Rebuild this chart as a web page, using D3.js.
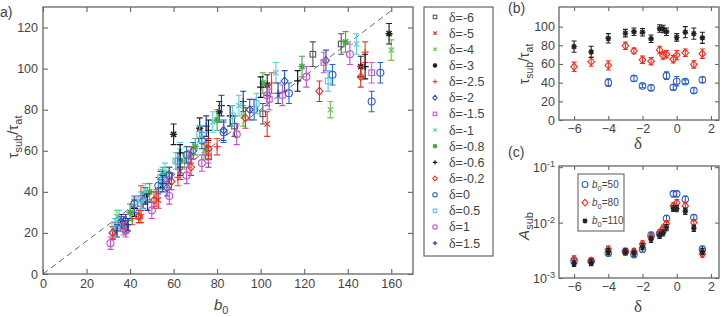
<!DOCTYPE html>
<html>
<head>
<meta charset="utf-8">
<script src="https://cdn.jsdelivr.net/npm/d3@7"></script>
<style>
body { margin: 0; background: #fff; }
text { font-family: Arial, "Liberation Sans", Helvetica, sans-serif; fill: #444; }
.greek { font-family: "Times New Roman", "Liberation Serif", "DejaVu Serif", serif; }
</style>
</head>
<body>
<svg id="chart" width="720" height="317"></svg>
<script>
// ---- data ----
// panel a : [b0, tau_sub/tau_at, error]
var deltaLabels = ["-6", "-5", "-4", "-3", "-2.5", "-2", "-1.5", "-1", "-0.8", "-0.6", "-0.2", "0", "0.5", "1", "1.5"];
var seriesColors = ["#555", "#e8302a", "#66c844", "#222", "#f04030", "#3050b0", "#c060c0", "#50d0e0", "#40b040", "#111", "#e83020", "#3060c8", "#50c8e0", "#c050d0", "#2040a0"];
var seriesShapes = ["square", "x", "x", "star", "plus", "diamond", "square", "x", "star", "plus", "diamond", "circle", "square", "circle", "plus"];

var dm6 = [[38,23,3],[58,48,4],[62,55,4],[76,57,5],[88,72,5],[101,78,5],[124,107,6],[137,112,5]];
var dm5 = [[37,25,3],[45,28,3],[53,36,4],[63,50,4],[75,62,4],[103,73,6]];
var dm4 = [[34,28,3],[42,33,4],[55,45,4],[65,55,4],[74,60,4],[92,77,5],[132,80,4],[160,109,5]];
var dm3 = [[36,26,3],[47,38,4],[60,68,5],[72,71,5],[81,79,5],[103,92,5],[146,101,5],[159,117,5]];
var dm25 = [[33,22,3],[41,27,3],[45,38,5],[52,37,4],[62,47,4],[68,58,4],[80,62,4],[105,93,5],[148,108,5]];
var dm2 = [[32,20,3],[38,26,3],[46,36,4],[57,42,4],[69,60,4],[83,70,5],[95,80,5],[111,94,5],[130,104,5]];
var dm15 = [[37,22,3],[44,28,3],[57,46,4],[67,56,4],[76,59,5],[104,85,5],[110,87,5],[129,103,5],[151,98,5]];
var dm1 = [[35,27,4],[47,40,4],[56,50,4],[63,60,4],[78,74,5],[90,82,5],[107,98,5],[144,112,5]];
var dm08 = [[40,30,4],[49,40,4],[55,48,4],[70,62,4],[80,75,5],[101,93,5],[119,101,5],[139,113,5]];
var dm06 = [[42,32,4],[54,46,4],[63,59,4],[76,70,5],[86,77,5],[100,91,5],[117,94,5],[148,101,6]];
var dm02 = [[32,20,3],[44,28,3],[51,36,4],[59,45,4],[68,52,4],[76,61,5],[93,76,5],[127,89,5],[146,96,5]];
var d0 = [[36,25,3],[42,34,4],[53,43,4],[58,48,4],[66,58,4],[73,65,4],[83,69,5],[97,80,5],[113,88,5],[133,97,5],[151,84,5],[155,98,5]];
var d05 = [[33,24,3],[45,36,4],[54,47,4],[61,55,4],[72,68,4],[87,77,5],[98,83,5],[131,94,5]];
var d1 = [[31,15,3],[38,21,3],[50,31,4],[58,38,4],[66,48,4],[73,54,4],[89,68,5],[103,87,5],[121,96,5],[141,107,5]];
var d15 = [[34,21,3],[39,24,3],[48,35,4],[55,44,4],[63,52,4],[75,72,5],[82,82,5],[92,84,5],[108,88,5]];
var seriesA = [dm6, dm5, dm4, dm3, dm25, dm2, dm15, dm1, dm08, dm06, dm02, d0, d05, d1, d15];

// panel b : tau_sub/tau_at vs delta for three b0
var deltaB = [-6, -5, -4, -3, -2.5, -2, -1.5, -1, -0.8, -0.6, -0.2, 0, 0.5, 1, 1.5];
var tau110 = [78.6, 73, 87.5, 93, 94.5, 94, 87, 98, 97.5, 94.5, null, 88.5, 94, 92.5, 88];
var tau80 = [57, 62.5, 58.5, 79.5, 74, 64.5, 63, 75, 69, 70.5, 65, 69.5, 72, 59.5, 71];
var tau50 = [null, null, 40, null, 44.5, 36.5, 34.5, null, null, 47.5, 35, 41.5, 41, 31.5, 43];
var err110 = [6, 6, 5, 4, 4, 4, 4, 4, 4, 4, 0, 4, 6, 6, 6];
var err80 = [5, 5, 5, 4, 3, 4, 4, 4, 4, 4, 4, 5, 4, 4, 5];
var err50 = [0, 0, 4, 0, 3, 2, 3, 0, 0, 4, 3, 5, 2, 3, 3];

// panel c : A_sub vs delta (log scale)
var amp50 = [2.0e-3, 2.0e-3, 2.8e-3, 3.0e-3, 2.65e-3, 3.3e-3, 5.9e-3, 6.3e-3, 7.2e-3, 1.19e-2, 3.3e-2, 3.3e-2, 2.65e-2, 1.23e-2, 3.3e-3];
var amp80 = [2.2e-3, 2.06e-3, 3.3e-3, 3.0e-3, 3.0e-3, 4.1e-3, 5.5e-3, 6.6e-3, 7.9e-3, 9.5e-3, 2.0e-2, 2.28e-2, 2.0e-2, 1.0e-2, 2.7e-3];
var amp110 = [1.83e-3, 1.9e-3, 3.0e-3, 2.95e-3, 2.8e-3, 3.7e-3, 5.0e-3, 5.9e-3, 6.5e-3, 8.1e-3, 1.8e-2, 1.78e-2, 1.6e-2, 7.9e-3, 3.0e-3];
var b0Labels = ["50", "80", "110"];

var xTicksA = [0, 20, 40, 60, 80, 100, 120, 140, 160];
var yTicksA = [0, 20, 40, 60, 80, 100, 120];
var xTicksB = [-6, -4, -2, 0, 2];
var yTicksB = [0, 20, 40, 60, 80, 100];
var yTicksC = [-3, -2, -1];

var svg = d3.select("#chart");
var frameColor = "#666";

function marker(g, shape, cx, cy, r, color) {
	if (shape == "square") {
		g.append("rect").attr("x", cx - r * 0.8).attr("y", cy - r * 0.8)
			.attr("width", r * 1.6).attr("height", r * 1.6)
			.attr("fill", "none").attr("stroke", color).attr("stroke-width", 1.1);
	} else if (shape == "circle") {
		g.append("circle").attr("cx", cx).attr("cy", cy).attr("r", r)
			.attr("fill", "none").attr("stroke", color).attr("stroke-width", 1.1);
	} else if (shape == "diamond") {
		g.append("path")
			.attr("d", "M" + cx + "," + (cy - r * 1.1) + "L" + (cx + r) + "," + cy + "L" + cx + "," + (cy + r * 1.1) + "L" + (cx - r) + "," + cy + "Z")
			.attr("fill", "none").attr("stroke", color).attr("stroke-width", 1.1);
	} else {
		var p = "";
		var a = r * 0.75;
		if (shape == "x" || shape == "star")
			p += "M" + (cx - a) + "," + (cy - a) + "L" + (cx + a) + "," + (cy + a) + "M" + (cx - a) + "," + (cy + a) + "L" + (cx + a) + "," + (cy - a);
		if (shape == "plus" || shape == "star")
			p += "M" + (cx - r) + "," + cy + "L" + (cx + r) + "," + cy + "M" + cx + "," + (cy - r) + "L" + cx + "," + (cy + r);
		g.append("path").attr("d", p).attr("fill", "none").attr("stroke", color)
			.attr("stroke-width", shape == "star" ? 1.4 : 1.2);
	}
}

function errBar(g, x, y1, y2, cap, color) {
	g.append("path")
		.attr("d", "M" + x + "," + y1 + "L" + x + "," + y2 +
			"M" + (x - cap) + "," + y1 + "L" + (x + cap) + "," + y1 +
			"M" + (x - cap) + "," + y2 + "L" + (x + cap) + "," + y2)
		.attr("fill", "none").attr("stroke", color).attr("stroke-width", 1.1);
}

function frame(x0, y0, x1, y1) {
	svg.append("rect").attr("x", x0).attr("y", y0)
		.attr("width", x1 - x0).attr("height", y1 - y0)
		.attr("fill", "none").attr("stroke", frameColor).attr("stroke-width", 1.3);
}

function styleAxis(g) {
	g.select(".domain").remove();
	g.selectAll(".tick line").attr("stroke", frameColor).attr("stroke-width", 1.1);
	g.selectAll(".tick text").style("font-size", "12.5px").attr("fill", "#444");
}

// ================= panel a =================
var xA = d3.scaleLinear().domain([0, 170]).range([43, 413]);
var yA = d3.scaleLinear().domain([0, 130]).range([274, 7]);

svg.append("g").attr("transform", "translate(0,274)")
	.call(d3.axisBottom(xA).tickValues(xTicksA).tickSize(-5).tickPadding(5)).call(styleAxis);
svg.append("g").attr("transform", "translate(0,7)")
	.call(d3.axisTop(xA).tickValues(xTicksA).tickSize(-5).tickFormat("")).call(styleAxis);
svg.append("g").attr("transform", "translate(43,0)")
	.call(d3.axisLeft(yA).tickValues(yTicksA).tickSize(-5).tickPadding(5)).call(styleAxis);
svg.append("g").attr("transform", "translate(413,0)")
	.call(d3.axisRight(yA).tickValues(yTicksA).tickSize(-5).tickFormat("")).call(styleAxis);

// dashed guide line
svg.append("line")
	.attr("x1", xA(0)).attr("y1", yA(0)).attr("x2", xA(161)).attr("y2", yA(129))
	.attr("stroke", "#666").attr("stroke-width", 1).attr("stroke-dasharray", "6,4");

var gA = svg.append("g");
seriesA.forEach(function(s, i) {
	s.forEach(function(d) {
		errBar(gA, xA(d[0]), yA(d[1] - d[2]), yA(d[1] + d[2]), 3, seriesColors[i]);
		marker(gA, seriesShapes[i], xA(d[0]), yA(d[1]), 3.5, seriesColors[i]);
	});
});
frame(43, 7, 413, 274);

svg.append("text").attr("x", 0).attr("y", 17).style("font-size", "14px").attr("fill", "#333").text("a)");
var ylA = svg.append("text").attr("transform", "translate(18,137) rotate(-90)")
	.attr("text-anchor", "middle").style("font-size", "15px").attr("fill", "#333");
ylA.append("tspan").text("τ");
ylA.append("tspan").attr("dy", 4).style("font-size", "11px").text("sub");
ylA.append("tspan").attr("dy", -4).text("/τ");
ylA.append("tspan").attr("dy", 4).style("font-size", "11px").text("at");
var xlA = svg.append("text").attr("x", 214).attr("y", 310).style("font-size", "15px").attr("fill", "#333");
xlA.append("tspan").style("font-style", "italic").text("b");
xlA.append("tspan").attr("dy", 4).style("font-size", "11px").text("0");

// legend a
svg.append("rect").attr("x", 424).attr("y", 7).attr("width", 69).attr("height", 249)
	.attr("fill", "#fff").attr("stroke", frameColor).attr("stroke-width", 1.2);
var legA = svg.append("g");
deltaLabels.forEach(function(lab, i) {
	var yy = 17 + i * 16.15;
	marker(legA, seriesShapes[i], 435, yy, 2.2, seriesColors[i]);
	var t = legA.append("text").attr("x", 449).attr("y", yy + 4.5).style("font-size", "12.5px").attr("fill", "#444");
	t.append("tspan").attr("class", "greek").style("font-size", "14px").text("δ");
	t.append("tspan").text("=" + lab);
});

// ================= panel b =================
var xB = d3.scaleLinear().domain([-6.88, 2.47]).range([559, 719]);
var yB = d3.scaleLinear().domain([0, 121]).range([120, 7]);

svg.append("g").attr("transform", "translate(0,120)")
	.call(d3.axisBottom(xB).tickValues(xTicksB).tickSize(-4).tickPadding(4)).call(styleAxis);
svg.append("g").attr("transform", "translate(0,7)")
	.call(d3.axisTop(xB).tickValues(xTicksB).tickSize(-4).tickFormat("")).call(styleAxis);
svg.append("g").attr("transform", "translate(559,0)")
	.call(d3.axisLeft(yB).tickValues(yTicksB).tickSize(-4).tickPadding(4)).call(styleAxis);
svg.append("g").attr("transform", "translate(719,0)")
	.call(d3.axisRight(yB).tickValues(yTicksB).tickSize(-4).tickFormat("")).call(styleAxis);

var gB = svg.append("g");
var bSets = [[tau50, err50, "circle", "#3060c8"], [tau80, err80, "diamond", "#e83020"], [tau110, err110, "star", "#222"]];
bSets.forEach(function(set) {
	deltaB.forEach(function(dl, i) {
		var v = set[0][i];
		if (v == null) return;
		errBar(gB, xB(dl), yB(v - set[1][i]), yB(v + set[1][i]), 2.5, set[3]);
		marker(gB, set[2], xB(dl), yB(v), set[2] == "star" ? 2.8 : 3.3, set[3]);
	});
});
frame(559, 7, 719, 120);

svg.append("text").attr("x", 508).attr("y", 13).style("font-size", "14px").attr("fill", "#333").text("(b)");
var ylB = svg.append("text").attr("transform", "translate(529,64) rotate(-90)")
	.attr("text-anchor", "middle").style("font-size", "14px").attr("fill", "#333");
ylB.append("tspan").text("τ");
ylB.append("tspan").attr("dy", 4).style("font-size", "10.5px").text("sub");
ylB.append("tspan").attr("dy", -4).text("/τ");
ylB.append("tspan").attr("dy", 4).style("font-size", "10.5px").text("at");
svg.append("text").attr("class", "greek").attr("x", 638).attr("y", 149).attr("text-anchor", "middle")
	.style("font-size", "17px").attr("fill", "#333").text("δ");

// ================= panel c =================
var xC = d3.scaleLinear().domain([-6.88, 2.47]).range([559, 719]);
var yC = d3.scaleLog().domain([1e-3, 1.05e-1]).range([278, 166]);

svg.append("g").attr("transform", "translate(0,278)")
	.call(d3.axisBottom(xC).tickValues(xTicksB).tickSize(-4).tickPadding(4)).call(styleAxis);
svg.append("g").attr("transform", "translate(0,166)")
	.call(d3.axisTop(xC).tickValues(xTicksB).tickSize(-4).tickFormat("")).call(styleAxis);
svg.append("g").attr("transform", "translate(559,0)")
	.call(d3.axisLeft(yC).tickValues(yTicksC.map(function(p) { return Math.pow(10, p); }))
		.tickSize(-4).tickFormat("")).call(styleAxis);
svg.append("g").attr("transform", "translate(719,0)")
	.call(d3.axisRight(yC).tickValues(yTicksC.map(function(p) { return Math.pow(10, p); }))
		.tickSize(-4).tickFormat("")).call(styleAxis);
yTicksC.forEach(function(p) {
	var t = svg.append("text").attr("x", 555).attr("y", yC(Math.pow(10, p)) + 5)
		.attr("text-anchor", "end").style("font-size", "12.5px").attr("fill", "#444");
	t.append("tspan").text("10");
	t.append("tspan").attr("dy", -5).style("font-size", "9px").text(String(p));
});

var gC = svg.append("g");
var cSets = [[amp50, "circle", "#3060c8"], [amp80, "diamond", "#e83020"], [amp110, "star", "#222"]];
cSets.forEach(function(set) {
	deltaB.forEach(function(dl, i) {
		var v = set[0][i];
		errBar(gC, xC(dl), yC(v * 0.88), yC(v * 1.14), 2.2, set[2]);
		marker(gC, set[1], xC(dl), yC(v), set[1] == "star" ? 2.7 : 3.2, set[2]);
	});
});
frame(559, 166, 719, 278);

// legend c
svg.append("rect").attr("x", 578).attr("y", 174).attr("width", 46).attr("height", 57)
	.attr("fill", "#fff").attr("stroke", frameColor).attr("stroke-width", 1.1);
cSets.forEach(function(set, i) {
	var yy = 184.5 + i * 18.2;
	marker(svg, set[1], 585, yy, set[1] == "star" ? 2.5 : 3, set[2]);
	var t = svg.append("text").attr("x", 592).attr("y", yy + 3.5).style("font-size", "10px").attr("fill", "#333");
	t.append("tspan").style("font-style", "italic").text("b");
	t.append("tspan").attr("dy", 3).style("font-size", "7.5px").text("0");
	t.append("tspan").attr("dy", -3).text("=" + b0Labels[i]);
});

svg.append("text").attr("x", 508).attr("y", 157).style("font-size", "14px").attr("fill", "#333").text("(c)");
var ylC = svg.append("text").attr("transform", "translate(529,226) rotate(-90)")
	.attr("text-anchor", "middle").style("font-size", "15px").attr("fill", "#333");
ylC.append("tspan").style("font-style", "italic").text("A");
ylC.append("tspan").attr("dy", 4).style("font-size", "11px").text("sub");
svg.append("text").attr("class", "greek").attr("x", 638).attr("y", 312).attr("text-anchor", "middle")
	.style("font-size", "17px").attr("fill", "#333").text("δ");
</script>
</body>
</html>
